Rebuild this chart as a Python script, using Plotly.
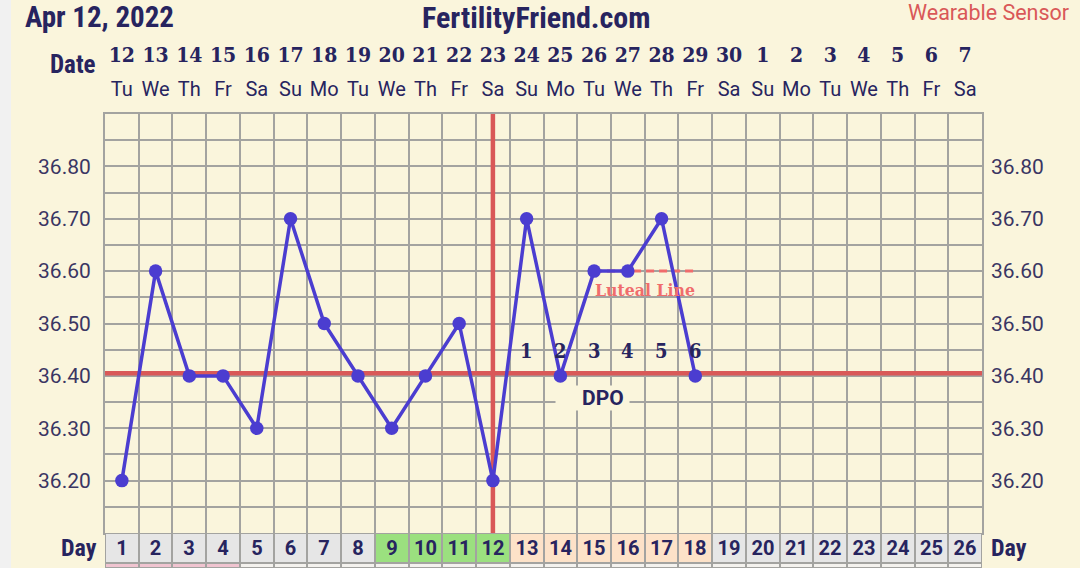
import plotly.graph_objects as go

# ---------------- data ----------------
days = list(range(1, 27))
dates = ["12", "13", "14", "15", "16", "17", "18", "19", "20", "21", "22", "23", "24",
         "25", "26", "27", "28", "29", "30", "1", "2", "3", "4", "5", "6", "7"]
weekdays = ["Tu", "We", "Th", "Fr", "Sa", "Su", "Mo", "Tu", "We", "Th", "Fr", "Sa", "Su",
            "Mo", "Tu", "We", "Th", "Fr", "Sa", "Su", "Mo", "Tu", "We", "Th", "Fr", "Sa"]
temp_days = list(range(1, 19))
temps = [36.20, 36.60, 36.40, 36.40, 36.30, 36.70, 36.50, 36.40, 36.30,
         36.40, 36.50, 36.20, 36.70, 36.40, 36.60, 36.60, 36.70, 36.40]
y_label_vals = [36.20, 36.30, 36.40, 36.50, 36.60, 36.70, 36.80]
y_grid_vals = [36.10, 36.15, 36.20, 36.25, 36.30, 36.35, 36.40, 36.45, 36.50,
               36.55, 36.60, 36.65, 36.70, 36.75, 36.80, 36.85, 36.90]
y_range = [36.10, 36.90]
coverline = 36.405
ovulation_day = 12
luteal_days = [15, 16, 17, 18]
luteal_level = [36.60, 36.60, 36.60, 36.60]
dpo_days = [13, 14, 15, 16, 17, 18]
dpo_labels = ["1", "2", "3", "4", "5", "6"]
day_phase = ["n"] * 8 + ["f"] * 4 + ["l"] * 6 + ["n"] * 8
flow_days = [1, 2, 3, 4]

# ---------------- styles ----------------
BG = "#faf5dc"
GRID = "#a3a3a0"
NAVY = "#27245f"
LABEL = "#3a3663"
BLUE = "#4b3dd0"
RED = "#d95858"
SALMON = "#f06c6c"
phase_colors = {"n": "#e6e6e6", "f": "#9be07f", "l": "#fde2c8"}
day_colors = [phase_colors[p] for p in day_phase]
strip_colors = ["#f0c4d0" if d in flow_days else "#f4f2ee" for d in days]

SANS = "Roboto, 'Open Sans', sans-serif"
NARROW = "'Liberation Sans Narrow', 'Roboto Condensed', Roboto, sans-serif"
SLAB = "'DejaVu Serif Condensed', 'DejaVu Serif', serif"

W, H = 1080, 568
L, R, T, B = 105, 98, 114, 0
plot_h = H - T - B
plot_w = W - L - R
main_bottom = (H - 533) / plot_h
strip_h = 5 / 30.0


def px_x(px):
    return (px - L) / plot_w


def px_y(py):
    return (H - py) / plot_h


x_bounds = [d - 0.5 for d in days] + [days[-1] + 0.5]
x_range = [days[0] - 0.5, days[-1] + 0.5]

fig = go.Figure()

# day row cells
fig.add_trace(go.Bar(
    x=days, y=[1] * len(days), base=0, width=1,
    marker=dict(color=day_colors, line=dict(color=GRID, width=2)),
    text=[str(d) for d in days], textposition="inside", insidetextanchor="middle",
    textfont=dict(family=SANS, size=20, color=NAVY, weight="bold"),
    xaxis="x2", yaxis="y2", hoverinfo="skip", showlegend=False,
))
# strip below
fig.add_trace(go.Bar(
    x=days, y=[strip_h] * len(days), base=-strip_h, width=1,
    marker=dict(color=strip_colors, line=dict(color=GRID, width=2)),
    xaxis="x2", yaxis="y2", hoverinfo="skip", showlegend=False,
))

# carrier traces so the label axes (top dates / weekdays, right temps) are drawn
for xa, ya in (("x3", "y"), ("x4", "y"), ("x", "y3")):
    fig.add_trace(go.Scatter(x=days, y=[y_range[0]] * len(days), mode="none",
                             xaxis=xa, yaxis=ya, hoverinfo="skip", showlegend=False))

# coverline and ovulation line
fig.add_trace(go.Scatter(
    x=x_range, y=[coverline, coverline], mode="lines",
    line=dict(color=RED, width=4.5), hoverinfo="skip", showlegend=False,
))
fig.add_trace(go.Scatter(
    x=[ovulation_day, ovulation_day], y=y_range, mode="lines",
    line=dict(color=RED, width=4.5), hoverinfo="skip", showlegend=False,
))
# luteal dashed line
fig.add_trace(go.Scatter(
    x=luteal_days, y=luteal_level, mode="lines",
    line=dict(color=SALMON, width=3, dash="8px,5px"),
    hoverinfo="skip", showlegend=False,
))
# temperatures
fig.add_trace(go.Scatter(
    x=temp_days, y=temps, mode="lines+markers",
    line=dict(color=BLUE, width=3.5),
    marker=dict(color=BLUE, size=13.5),
    showlegend=False, cliponaxis=False,
))

shapes = [
    dict(type="rect", xref="paper", x0=px_x(0), x1=px_x(11), yref="paper", y0=px_y(H + 5), y1=px_y(-5),
         fillcolor="#f1f1f1", line=dict(width=0), layer="above"),
]

annotations = [
    dict(text="Apr 12, 2022", xref="paper", yref="paper", x=px_x(23), y=px_y(17),
         xanchor="left", yanchor="middle", showarrow=False,
         font=dict(family=NARROW, size=29, color=NAVY, weight="bold")),
    dict(text="FertilityFriend.com", xref="paper", yref="paper", x=px_x(536), y=px_y(17),
         xanchor="center", yanchor="middle", showarrow=False,
         font=dict(family=NARROW, size=30, color=NAVY, weight="bold")),
    dict(text="Wearable Sensor", xref="paper", yref="paper", x=px_x(1071), y=px_y(13),
         xanchor="right", yanchor="middle", showarrow=False,
         font=dict(family=SANS, size=21.5, color=RED)),
    dict(text="Date", xref="paper", yref="paper", x=px_x(98), y=px_y(64),
         xanchor="right", yanchor="middle", showarrow=False,
         font=dict(family=NARROW, size=25, color=NAVY, weight="bold")),
    dict(text="Day", xref="paper", yref="y2", x=px_x(99), y=0.5,
         xanchor="right", yanchor="middle", showarrow=False,
         font=dict(family=NARROW, size=24, color=NAVY, weight="bold")),
    dict(text="Day", xref="paper", yref="y2", x=px_x(989), y=0.5,
         xanchor="left", yanchor="middle", showarrow=False,
         font=dict(family=NARROW, size=24, color=NAVY, weight="bold")),
    dict(text="Luteal Line", xref="x", yref="y", x=16.5, y=36.564,
         xanchor="center", yanchor="middle", showarrow=False,
         font=dict(family=SLAB, size=17.5, color=SALMON, weight="bold")),
    dict(text="\u00a0\u00a0\u00a0\u00a0\u00a0DPO\u00a0", xref="x", yref="y", x=14.95, y=36.357,
         xanchor="center", yanchor="middle", showarrow=False, bgcolor=BG, borderpad=0,
         font=dict(family=SANS, size=21, color=NAVY, weight="bold")),
]
for d, lab in zip(dpo_days, dpo_labels):
    annotations.append(dict(text=lab, xref="x", yref="y", x=d, y=36.447,
                            xanchor="center", yanchor="middle", showarrow=False,
                            font=dict(family=SLAB, size=20, color=NAVY, weight="bold")))

y_ticktext = [f"{v:.2f}" if any(abs(v - t) < 1e-6 for t in y_label_vals) else "" for v in y_grid_vals]

fig.update_layout(
    width=W, height=H,
    margin=dict(l=L, r=R, t=T, b=B, pad=0),
    paper_bgcolor=BG, plot_bgcolor=BG,
    barmode="overlay", bargap=0,
    uniformtext=dict(minsize=18, mode="show"),
    shapes=shapes, annotations=annotations,
    hovermode=False,
    xaxis=dict(domain=[0, 1], anchor="y", range=x_range, tickmode="array", tickvals=x_bounds,
               showticklabels=False, ticks="", showgrid=True, gridcolor=GRID, gridwidth=2,
               showline=True, mirror=True, linecolor=GRID, linewidth=2, zeroline=False),
    xaxis3=dict(overlaying="x", anchor="y", side="top", range=x_range, tickmode="array",
                tickvals=days, ticktext=weekdays, showgrid=False, ticks="", zeroline=False,
                ticklabelstandoff=13,
                tickfont=dict(family=SANS, size=20, color=NAVY)),
    xaxis4=dict(overlaying="x", anchor="y", side="top", range=x_range,
                tickmode="array", tickvals=days, ticktext=dates, showgrid=False, ticks="",
                zeroline=False, ticklabelstandoff=47,
                tickfont=dict(family=SLAB, size=21, color=NAVY, weight="bold")),
    yaxis=dict(domain=[main_bottom, 1], anchor="x", range=y_range, tickmode="array",
               tickvals=y_grid_vals, ticktext=y_ticktext, showgrid=True, gridcolor=GRID,
               gridwidth=2, showline=True, mirror=True, linecolor=GRID, linewidth=2,
               ticks="", ticklabelstandoff=8, zeroline=False,
               tickfont=dict(family=SANS, size=21, color=LABEL)),
    yaxis3=dict(overlaying="y", anchor="x", side="right", range=y_range, tickmode="array",
                tickvals=y_grid_vals, ticktext=y_ticktext, showgrid=False, ticks="",
                ticklabelstandoff=8, zeroline=False,
                tickfont=dict(family=SANS, size=21, color=LABEL)),
    xaxis2=dict(domain=[0, 1], anchor="y2", range=x_range, visible=False, matches="x"),
    yaxis2=dict(domain=[0, main_bottom], anchor="x2", range=[-strip_h, 1], visible=False),
)

fig.write_html("out.html", config={"displayModeBar": False},
               post_script="document.body.style.margin='0';")
